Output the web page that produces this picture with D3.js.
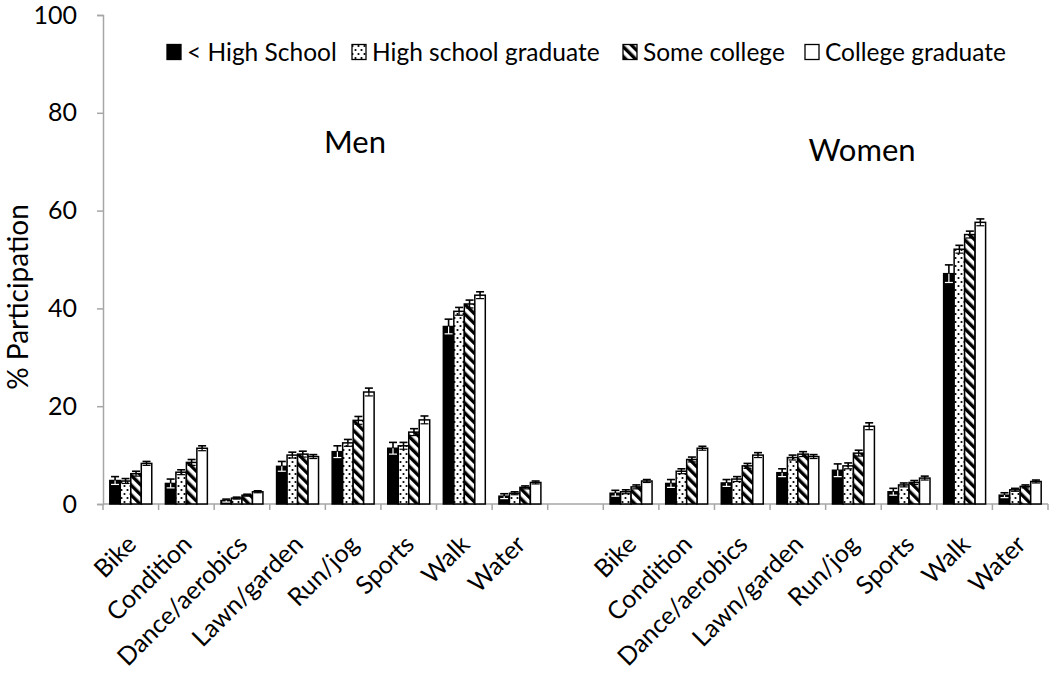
<!DOCTYPE html>
<html><head><meta charset="utf-8">
<script src="https://cdn.jsdelivr.net/npm/d3@7"></script>
<style>
html,body{margin:0;padding:0;background:#fff;}
text{font-family:Lato,"Open Sans",sans-serif;fill:#000;}
</style></head>
<body>
<svg id="chart" width="1050" height="676"></svg>
<script>
const categories = ["Bike","Condition","Dance/aerobics","Lawn/garden","Run/jog","Sports","Walk","Water"];
const seriesNames = ["< High School","High school graduate","Some college","College graduate"];
const panels = ["Men","Women"];
const yTicks = [0,20,40,60,80,100];

const menLessHS        = [4.8, 4.2, 0.7, 7.7, 10.7, 11.4, 36.3, 1.6];
const menHSGrad        = [4.7, 6.5, 1.2, 10.0, 12.5, 11.9, 39.4, 2.2];
const menSomeCollege   = [6.2, 8.5, 1.8, 10.2, 17.1, 14.7, 40.9, 3.4];
const menCollegeGrad   = [8.3, 11.4, 2.5, 9.7, 22.9, 17.2, 42.7, 4.4];
const womenLessHS      = [2.2, 4.2, 4.3, 6.4, 6.9, 2.5, 47.1, 1.8];
const womenHSGrad      = [2.5, 6.7, 5.1, 9.5, 7.8, 3.9, 52.1, 2.9];
const womenSomeCollege = [3.5, 9.1, 7.8, 10.2, 10.4, 4.4, 55.1, 3.6];
const womenCollegeGrad = [4.7, 11.4, 10.0, 9.7, 15.9, 5.3, 57.6, 4.6];

const menErrLessHS        = [0.8, 0.9, 0.3, 1.0, 1.2, 1.2, 1.5, 0.5];
const menErrHSGrad        = [0.5, 0.5, 0.2, 0.6, 0.7, 0.7, 0.8, 0.3];
const menErrSomeCollege   = [0.5, 0.6, 0.2, 0.6, 0.8, 0.7, 0.8, 0.3];
const menErrCollegeGrad   = [0.4, 0.5, 0.2, 0.4, 0.8, 0.8, 0.7, 0.3];
const womenErrLessHS      = [0.6, 0.8, 0.7, 0.8, 1.3, 0.7, 1.8, 0.5];
const womenErrHSGrad      = [0.4, 0.5, 0.5, 0.5, 0.6, 0.4, 0.8, 0.3];
const womenErrSomeCollege = [0.4, 0.5, 0.5, 0.5, 0.6, 0.4, 0.7, 0.3];
const womenErrCollegeGrad = [0.3, 0.4, 0.5, 0.4, 0.7, 0.4, 0.7, 0.3];

const values = {
  Men:   [menLessHS, menHSGrad, menSomeCollege, menCollegeGrad],
  Women: [womenLessHS, womenHSGrad, womenSomeCollege, womenCollegeGrad]
};
const errors = {
  Men:   [menErrLessHS, menErrHSGrad, menErrSomeCollege, menErrCollegeGrad],
  Women: [womenErrLessHS, womenErrHSGrad, womenErrSomeCollege, womenErrCollegeGrad]
};

const svg = d3.select("#chart");
const plotL = 103, plotR = 1048, plotT = 15, plotB = 504;
const axisColor = "#a6a6a6";

// patterns
const defs = svg.append("defs");
const pDots = defs.append("pattern").attr("id","dots").attr("patternUnits","userSpaceOnUse")
  .attr("width",6).attr("height",8);
pDots.append("rect").attr("width",6).attr("height",8).attr("fill","#fff");
pDots.append("circle").attr("cx",1.5).attr("cy",2).attr("r",1.1).attr("fill","#000");
pDots.append("circle").attr("cx",4.5).attr("cy",6).attr("r",1.1).attr("fill","#000");
const pHatch = defs.append("pattern").attr("id","hatch").attr("patternUnits","userSpaceOnUse")
  .attr("width",7).attr("height",7).attr("patternTransform","rotate(-45)");
pHatch.append("rect").attr("width",7).attr("height",7).attr("fill","#fff");
pHatch.append("rect").attr("x",0).attr("width",3.4).attr("height",7).attr("fill","#000");
const fills = ["#000","url(#dots)","url(#hatch)","#fff"];

// x domain: men categories, gap, women categories
const slots = [];
panels.forEach((p,pi)=>{
  categories.forEach(c=>slots.push(p+"|"+c));
  if(pi===0) slots.push("gap");
});
const x = d3.scaleBand().domain(slots).range([plotL,plotR]).paddingInner(0).paddingOuter(0);
const xs = d3.scaleBand().domain(seriesNames).range([0,x.bandwidth()]).paddingOuter(0.65).paddingInner(0);
const y = d3.scaleLinear().domain([0,100]).range([plotB,plotT]);

// y axis
const yAxis = svg.append("g").attr("transform",`translate(${plotL},0)`)
  .call(d3.axisLeft(y).tickValues(yTicks).tickSize(6).tickPadding(20));
yAxis.select(".domain").attr("stroke",axisColor).attr("stroke-width",1.5);
yAxis.selectAll(".tick line").attr("stroke",axisColor).attr("stroke-width",1.5);
yAxis.selectAll(".tick text").style("font-size","25px").style("font-family","Lato, sans-serif").attr("fill","#000");

// x axis line and ticks at slot boundaries
const xg = svg.append("g");
xg.append("line").attr("x1",plotL).attr("x2",plotR).attr("y1",plotB).attr("y2",plotB)
  .attr("stroke",axisColor).attr("stroke-width",1.5);
const bounds = slots.map(s=>x(s)).concat([plotR]);
xg.selectAll("line.tk").data(bounds).enter().append("line").attr("class","tk")
  .attr("x1",d=>d).attr("x2",d=>d).attr("y1",plotB).attr("y2",plotB+6)
  .attr("stroke",axisColor).attr("stroke-width",1.5);

// category labels
slots.filter(s=>s!=="gap").forEach(s=>{
  const cx = x(s)+x.bandwidth()/2+7;
  svg.append("text").attr("transform",`translate(${cx},${plotB+42}) rotate(-45)`)
    .attr("text-anchor","end").style("font-size","25px").text(s.split("|")[1]);
});

// bars
panels.forEach(p=>{
  categories.forEach((c,ci)=>{
    const gx = x(p+"|"+c);
    seriesNames.forEach((sn,si)=>{
      const v = values[p][si][ci], e = errors[p][si][ci];
      const bx = gx+xs(sn), bw = xs.bandwidth();
      const cx = bx+bw/2;
      const eg = svg.append("g").attr("stroke","#000").attr("stroke-width",1.6);
      eg.append("line").attr("x1",cx).attr("x2",cx).attr("y1",y(v+e)).attr("y2",y(v));
      eg.append("line").attr("x1",cx-4).attr("x2",cx+4).attr("y1",y(v+e)).attr("y2",y(v+e));
      svg.append("rect").attr("x",bx).attr("y",y(v)).attr("width",bw).attr("height",y(0)-y(v))
        .attr("fill",fills[si]).attr("stroke","#000").attr("stroke-width",1.5);
      const ic = si===0?"#fff":"#000";
      svg.append("line").attr("x1",cx).attr("x2",cx).attr("y1",y(v)).attr("y2",y(v-e))
        .attr("stroke",ic).attr("stroke-width",1.2);
      svg.append("line").attr("x1",cx-4).attr("x2",cx+4).attr("y1",y(v-e)).attr("y2",y(v-e))
        .attr("stroke",ic).attr("stroke-width",1.2);
    });
  });
});

// panel titles
svg.append("text").attr("x",355).attr("y",153).attr("text-anchor","middle").style("font-size","31px").text(panels[0]);
svg.append("text").attr("x",862).attr("y",161).attr("text-anchor","middle").style("font-size","31px").text(panels[1]);

// y title
svg.append("text").attr("transform","translate(28,297) rotate(-90)").attr("text-anchor","middle")
  .style("font-size","28px").text("% Participation");

// legend
const legX = [167, 352, 623, 805];
const lg = svg.append("g");
seriesNames.forEach((sn,i)=>{
  lg.append("rect").attr("x",legX[i]).attr("y",44.5).attr("width",14).attr("height",15)
    .attr("fill",fills[i]).attr("stroke","#000").attr("stroke-width",1.3);
  lg.append("text").attr("x",legX[i]+20).attr("y",61).style("font-size","24.5px").text(sn);
});
</script>
</body></html>
